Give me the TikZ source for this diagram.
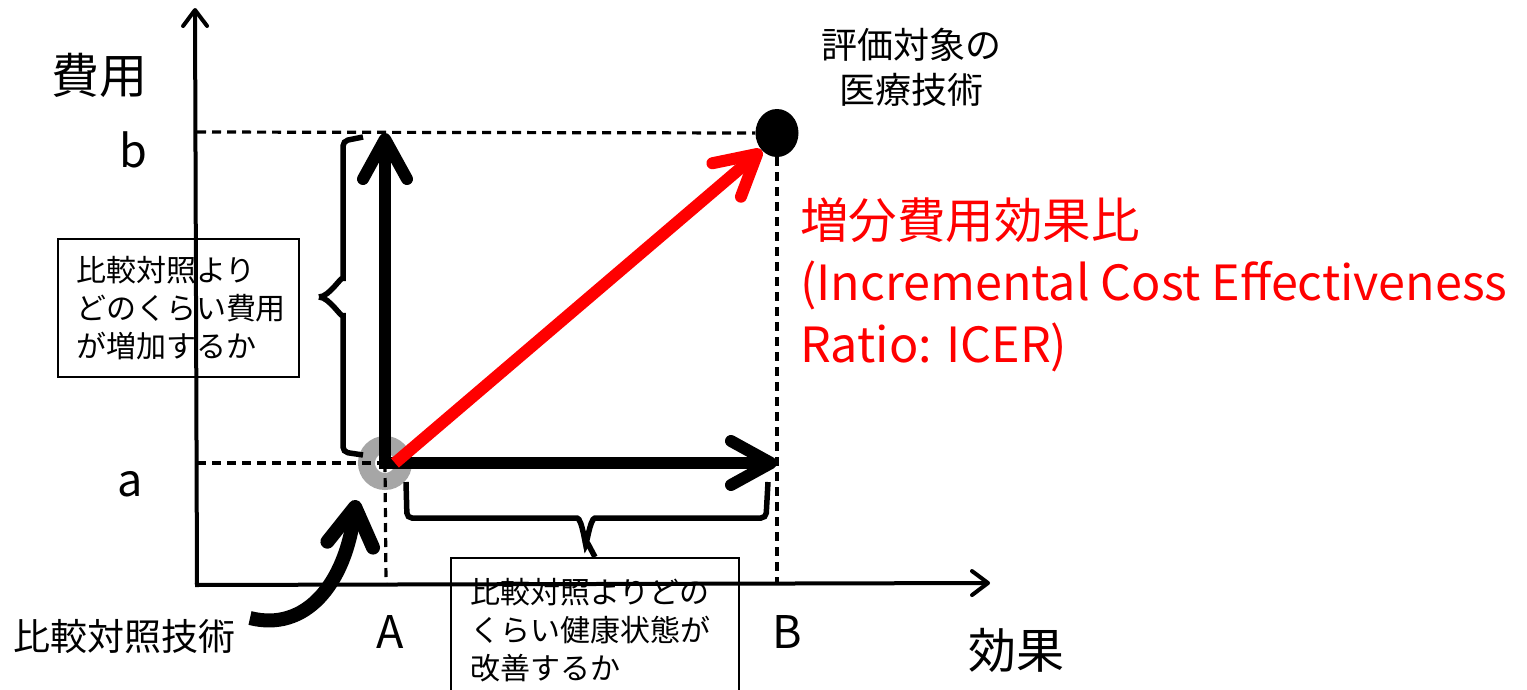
\documentclass[tikz,border=0pt]{standalone}
\usepackage{fontspec}
\setmainfont{Noto Sans CJK JP}
\usetikzlibrary{arrows.meta,calc,shapes.geometric}
\newcommand{\fsz}[2]{\fontsize{#1}{#2}\selectfont}
\definecolor{ringgray}{RGB}{166,166,166}
\begin{document}
\begin{tikzpicture}[x=1pt,y=-1pt,
  axis/.style={line width=4pt,-{Straight Barb[length=16pt,width=24pt,round]}},
  dashline/.style={line width=3.2pt,dash pattern=on 9pt off 6pt},
  bigarrow/.style={line width=12pt,-{Straight Barb[length=40pt,width=44pt,round]}},
  redarrow/.style={bigarrow,draw=red},
  bracepath/.style={line width=5.5pt,rounded corners=5pt},
  textbox/.style={draw,line width=2pt,align=left,anchor=north west,inner ysep=0pt},
  lbl/.style={inner sep=0pt}
]
\useasboundingbox (0,0) rectangle (1527,689);
\clip (0,0) rectangle (1527,689);

% coordinates
\coordinate (O) at (197,585);
\coordinate (ytop) at (195,8);
\coordinate (xend) at (990,583);
\coordinate (P) at (385,463);
\coordinate (ya) at (197,463);
\coordinate (yb) at (197,132);
\coordinate (xa) at (386,583);
\coordinate (xb) at (777,583);
\coordinate (Ptop) at (385,133);
\coordinate (Pright) at (777,463);

% ring
\node[draw=ringgray,line width=17pt,circle,minimum size=37pt,inner sep=0pt] (ring) at (P) {};

% axes
\draw[axis] (O) -- (ytop);
\draw[axis] ($(O)+(-2,0)$) -- (xend);

% evaluation point
\node[fill=black,ellipse,minimum width=43pt,minimum height=48pt,inner sep=0pt,draw=none] (dot) at (777,133) {};

% dashed guides
\draw[dashline] (yb) -- (dot.west);
\draw[dashline] (ya) -- (P);
\draw[dashline] (P) -- (xa);
\draw[dashline] (dot.south) -- (xb);

% big arrows
\draw[bigarrow] ($(P)+(0,6)$) -- (Ptop);
\draw[bigarrow] ($(P)+(-6,0)$) -- (Pright);
\draw[redarrow] ($(P)+(10,0)$) -- (dot.south west);

% labels
\node[lbl,font=\fsz{48}{56}] (cost) at (99,75) {費用};
\node[lbl,font=\fsz{48}{56}] (eff) at (1016,650) {効果};
\node[lbl,font=\fsz{45}{50}] (b) at (133,150) {b};
\node[lbl,font=\fsz{45}{50}] (a) at (130,484) {a};
\node[lbl,font=\fsz{45}{50}] (A) at (390,632) {A};
\node[lbl,font=\fsz{45}{50}] (B) at (787,632) {B};
\node[lbl,font=\fsz{36}{45},align=center] (eval) at (911,67) {評価対象の\\医療技術};
\node[lbl,font=\fsz{48.5}{62},align=left,text=red,anchor=north west] (icer) at (800,197)
  {増分費用効果比\\(Incremental Cost Effectiveness\\Ratio: ICER)};
\node[lbl,font=\fsz{37}{40}] (comp) at (124,637) {比較対照技術};

% boxes
\node[textbox,font=\fsz{30}{38},minimum width=241pt,minimum height=138pt,text width=205pt,inner xsep=18pt] (box1) at (57,238)
  {比較対照より\\どのくらい費用\\が増加するか};
\node[textbox,font=\fsz{30}{38},minimum width=288pt,minimum height=145pt,text width=250pt,inner xsep=19pt] (box2) at (450,557)
  {比較対照よりどの\\くらい健康状態が\\改善するか};

% left brace
\coordinate (lbt) at (363,137);
\coordinate (lbb) at (363,455);
\coordinate (lbtip) at (319,297);
\draw[bracepath] (lbt) -- (343,141) -- (343,284) to[out=90,in=0] (lbtip);
\draw[bracepath] (lbb) -- (343,452) -- (343,310) to[out=-90,in=0] (lbtip);

% bottom brace
\coordinate (bbl) at (406,482);
\coordinate (bbr) at (768,482);
\draw[bracepath] (bbl) -- (407,518) -- (572,518) to[out=0,in=-90] (586,540) -- (box2.north);
\draw[bracepath] (bbr) -- (766,518) -- (600,518) to[out=180,in=-90] (586,540);

% comparator arrow
\coordinate (cstart) at (250,618);
\coordinate (ctip) at (356,500);
\draw[line width=14pt,-{Straight Barb[length=38pt,width=46pt,round]}] (cstart) .. controls (305,632) and (345,585) .. (ctip);
\end{tikzpicture}
\end{document}
